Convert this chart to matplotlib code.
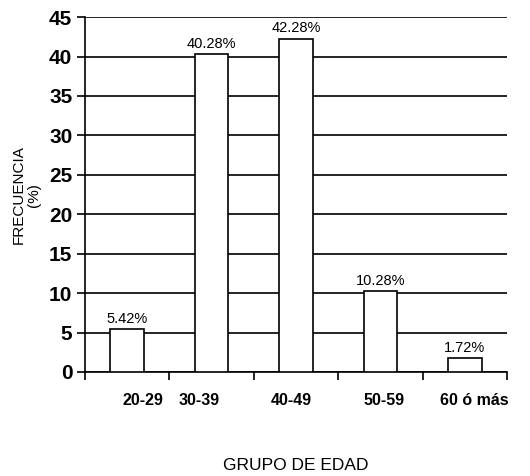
import numpy as np
import matplotlib.pyplot as plt
from matplotlib.ticker import FixedLocator

grupos = ['20-29', '30-39', '40-49', '50-59', '60 ó más']
frecuencia = [5.42, 40.28, 42.28, 10.28, 1.72]
etiquetas = ['5.42%', '40.28%', '42.28%', '10.28%', '1.72%']
# desplazamiento de las etiquetas del eje x (como en el original)
desplaz = [0.19, -0.15, -0.06, 0.04, 0.11]

fuente = ['Liberation Sans', 'DejaVu Sans']

fig = plt.figure(figsize=(5.3, 4.76), dpi=100)
ax = fig.add_axes([0.160, 0.2185, 0.797, 0.7455])

x = np.arange(len(grupos))
ax.set_axisbelow(True)
ax.yaxis.grid(True, color='black', linewidth=1.2)
bars = ax.bar(x, frecuencia, width=0.4, color='white', edgecolor='black', linewidth=1.2, zorder=3)

for b, t in zip(bars, etiquetas):
    ax.text(b.get_x() + b.get_width() / 2, b.get_height() + 0.4, t,
            ha='center', va='bottom', fontsize=10.5, family=fuente, zorder=4)

ax.set_xlim(-0.5, len(grupos) - 0.5)
ax.set_ylim(0, 45)
ax.set_yticks(np.arange(0, 46, 5))
ax.set_yticklabels([str(v) for v in range(0, 46, 5)], fontsize=15, fontweight='bold', family=fuente)

ax.set_xticks(x + np.array(desplaz))
ax.set_xticklabels(grupos, fontsize=11.5, fontweight='bold', family=fuente)
ax.tick_params(axis='x', which='major', length=0, pad=15)
ax.xaxis.set_minor_locator(FixedLocator(np.arange(-0.5, len(grupos), 1)))
ax.tick_params(axis='x', which='minor', length=6, width=1.2, color='black')
ax.tick_params(axis='y', length=6, width=1.2, pad=3)

for s in ['top', 'right']:
    ax.spines[s].set_visible(False)
for s in ['left', 'bottom']:
    ax.spines[s].set_linewidth(1.2)

ax.set_ylabel('FRECUENCIA\n(%)', fontsize=11, family=fuente, labelpad=6, linespacing=1.1)
ax.set_xlabel('GRUPO DE EDAD', fontsize=12.5, family=fuente, labelpad=36)

fig.savefig('out.png', dpi=100)
